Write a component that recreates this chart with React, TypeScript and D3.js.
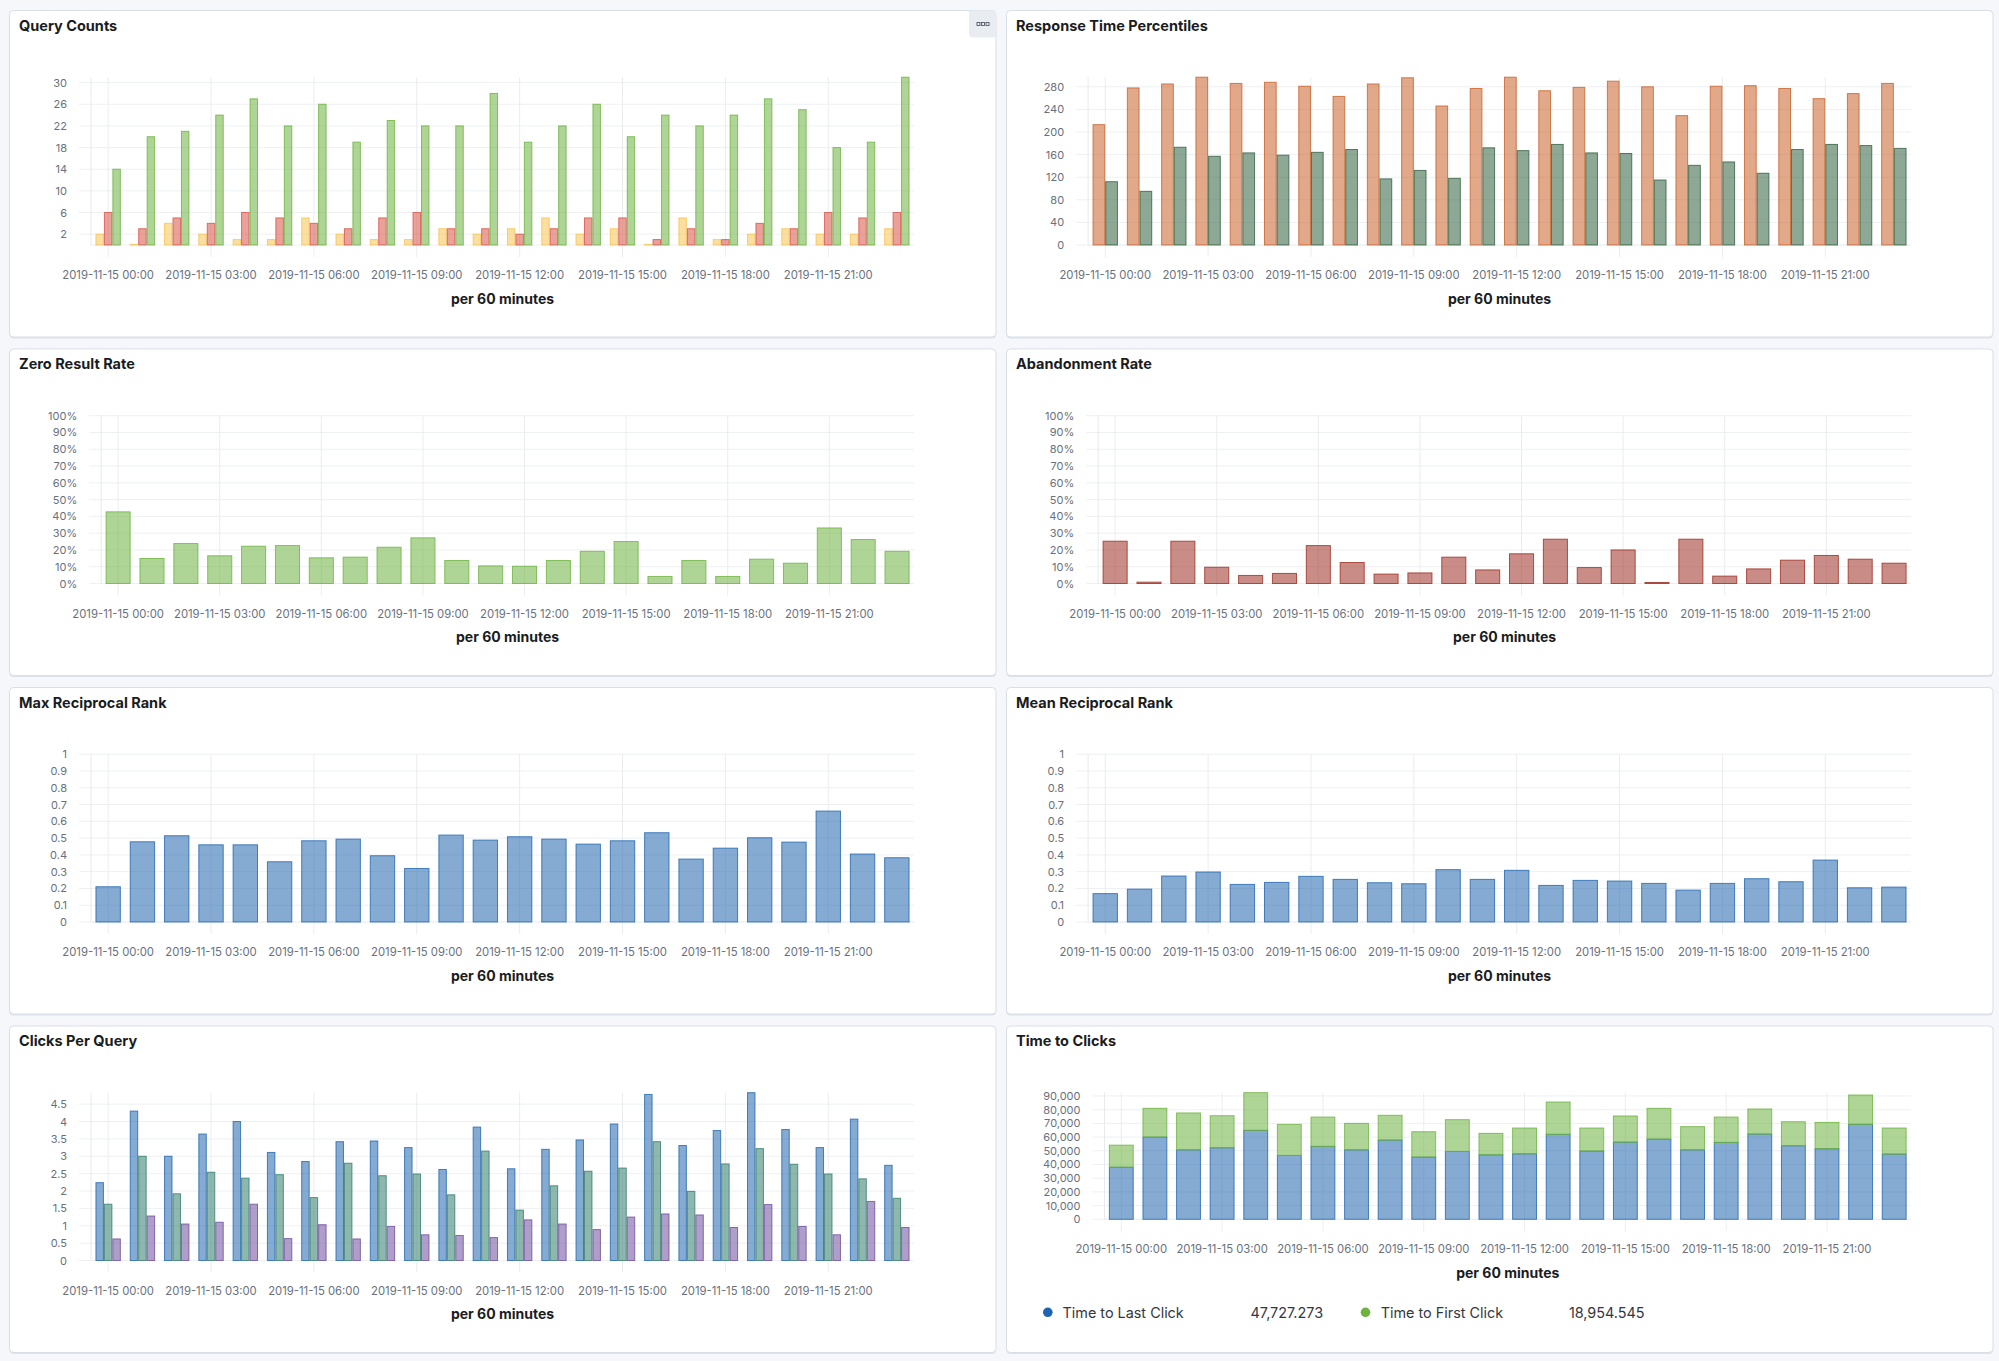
import React from 'react';
import * as d3 from 'd3';

// hourly buckets, 2019-11-15
const day = '2019-11-15';
const hours = ['00:00', '01:00', '02:00', '03:00', '04:00', '05:00', '06:00', '07:00', '08:00', '09:00', '10:00', '11:00',
  '12:00', '13:00', '14:00', '15:00', '16:00', '17:00', '18:00', '19:00', '20:00', '21:00', '22:00', '23:00'];
const tickHours = ['00:00', '03:00', '06:00', '09:00', '12:00', '15:00', '18:00', '21:00'];

// Query Counts
const qcZero = [2, 0, 4, 2, 1, 1, 5, 2, 1, 1, 3, 2, 3, 5, 2, 3, 0, 5, 1, 2, 3, 2, 2, 3];
const qcAbandoned = [6, 3, 5, 4, 6, 5, 4, 3, 5, 6, 3, 3, 2, 3, 5, 5, 1, 3, 1, 4, 3, 6, 5, 6];
const qcTotal = [14, 20, 21, 24, 27, 22, 26, 19, 23, 22, 22, 28, 19, 22, 26, 20, 24, 22, 24, 27, 25, 18, 19, 31];
const qcTicks = [2, 6, 10, 14, 18, 22, 26, 30];

// Response Time Percentiles
const rtP95 = [213, 278, 285, 297, 286, 288, 281, 263, 285, 296, 246, 277, 297, 273, 279, 290, 280, 229, 281, 282, 277, 259, 268, 286];
const rtP50 = [112, 95, 173, 157, 163, 159, 164, 169, 117, 132, 118, 172, 167, 178, 163, 162, 115, 141, 147, 127, 169, 178, 176, 171];
const rtTicks = [0, 40, 80, 120, 160, 200, 240, 280];

// rates
const zeroRate = [0.427, 0.149, 0.238, 0.165, 0.222, 0.226, 0.153, 0.157, 0.216, 0.272, 0.137, 0.105,
  0.103, 0.137, 0.192, 0.25, 0.042, 0.137, 0.042, 0.145, 0.121, 0.331, 0.262, 0.192];
const abandonRate = [0.252, 0.008, 0.252, 0.097, 0.048, 0.06, 0.226, 0.125, 0.056, 0.063, 0.157, 0.081,
  0.177, 0.264, 0.095, 0.2, 0.006, 0.264, 0.044, 0.087, 0.139, 0.167, 0.145, 0.121];
const pctTicks = [0, 0.1, 0.2, 0.3, 0.4, 0.5, 0.6, 0.7, 0.8, 0.9, 1];

// reciprocal rank
const maxRR = [0.21, 0.478, 0.514, 0.46, 0.46, 0.359, 0.484, 0.494, 0.395, 0.319, 0.518, 0.488,
  0.508, 0.494, 0.464, 0.484, 0.532, 0.375, 0.44, 0.502, 0.476, 0.661, 0.405, 0.383];
const meanRR = [0.169, 0.196, 0.274, 0.298, 0.224, 0.236, 0.272, 0.254, 0.234, 0.228, 0.312, 0.254,
  0.308, 0.218, 0.248, 0.244, 0.23, 0.19, 0.23, 0.258, 0.24, 0.369, 0.204, 0.208];
const rrTicks = [0, 0.1, 0.2, 0.3, 0.4, 0.5, 0.6, 0.7, 0.8, 0.9, 1];

// Clicks Per Query
const cpqMax = [2.24, 4.3, 3.0, 3.64, 4.0, 3.11, 2.85, 3.42, 3.44, 3.25, 2.62, 3.84, 2.64, 3.2, 3.47, 3.93, 4.78, 3.31, 3.74, 4.83, 3.77, 3.25, 4.07, 2.74];
const cpqP75 = [1.62, 3.0, 1.92, 2.54, 2.37, 2.47, 1.81, 2.8, 2.44, 2.49, 1.89, 3.15, 1.45, 2.15, 2.57, 2.66, 3.42, 1.99, 2.78, 3.22, 2.77, 2.49, 2.35, 1.79];
const cpqMean = [0.62, 1.28, 1.05, 1.1, 1.62, 0.63, 1.03, 0.62, 0.98, 0.74, 0.72, 0.66, 1.17, 1.05, 0.89, 1.25, 1.34, 1.31, 0.95, 1.61, 0.98, 0.74, 1.7, 0.95];
const cpqTicks = [0, 0.5, 1, 1.5, 2, 2.5, 3, 3.5, 4, 4.5];

// Time to Clicks (stacked)
const ttLast = [38000, 60000, 50700, 52200, 64900, 46600, 53200, 50700, 57800, 45400, 49500, 47100,
  47800, 62000, 49800, 56300, 58500, 50700, 56100, 62200, 53700, 51500, 69300, 47600];
const ttFirst = [16100, 21000, 26900, 23400, 27500, 22700, 21400, 19300, 18100, 18500, 23200, 15600,
  18800, 23600, 16800, 19100, 22500, 16900, 18500, 18300, 17500, 19200, 21400, 19000];
const ttTicks = [0, 10000, 20000, 30000, 40000, 50000, 60000, 70000, 80000, 90000];
const ttLegend = ['Time to Last Click', 'Time to First Click'];
const ttLegendValues = [47727.273, 18954.545];

const FONT = 'Inter, "Open Sans", "DejaVu Sans", sans-serif';
const PW = 986.5;
const PH = 326.5;
const colX = [9.5, 1006.5];
const rowY = [10.5, 349, 687.5, 1026];

type Series = { name: string; values: number[]; color: string };

interface PanelProps {
  px: number;
  py: number;
  title: string;
  axisX: number;
  series: Series[];
  stacked?: boolean;
  yMax?: number;
  yTicks: number[];
  yFormat: (v: number) => string;
  bottom?: number;
  menu?: boolean;
  children?: React.ReactNode;
}

const BarPanel: React.FC<PanelProps> = ({ px, py, title, axisX, series, stacked, yMax, yTicks, yFormat, bottom = 234.5, menu, children }) => {
  const x0 = px + axisX;
  const x1 = px + 904.5;
  const yTop = py + 66.7;
  const yBase = py + bottom;

  const rows = hours.map((h, i) => {
    const r: Record<string, number | string> = { hour: h };
    series.forEach(s => { r[s.name] = s.values[i]; });
    return r;
  });
  const stackData = d3.stack<Record<string, number | string>>()
    .keys(series.map(s => s.name))
    .value((d, k) => d[k] as number)(rows);

  const dataMax = stacked
    ? d3.max(stackData[stackData.length - 1], d => d[1]) || 1
    : d3.max(series.flatMap(s => s.values)) || 1;

  const x = d3.scaleBand<string>().domain(hours).range([x0, x1]).paddingInner(0.26).paddingOuter(0.13);
  const sub = d3.scaleBand<string>().domain(series.map(s => s.name)).range([0, x.bandwidth()]);
  const y = d3.scaleLinear().domain([0, yMax ?? dataMax]).range([yBase, yTop]);

  const bar = (key: string, bx: number, bw: number, v0: number, v1: number, color: string) => {
    const top = y(v1);
    const h = Math.max(0.6, y(v0) - top);
    return (
      <rect key={key} x={bx + 0.5} y={Math.min(top, y(v0) - 0.6)} width={bw - 1} height={h}
        fill={color} fillOpacity={0.55} stroke={color} strokeOpacity={0.8} strokeWidth={1} />
    );
  };

  return (
    <g>
      <rect x={px} y={py + 1.5} width={PW} height={PH} rx={4} fill="#dde2ea" />
      <rect x={px} y={py} width={PW} height={PH} rx={4} fill="#fff" stroke="#d9dfe8" strokeWidth={1} />
      <text x={px + 9.5} y={py + 14.5} dominantBaseline="central" fontFamily={FONT} fontSize={14.5}
        fontWeight={700} fill="#1a1c21">{title}</text>

      {menu && (
        <g>
          <path d={`M${px + PW - 27},${py} H${px + PW - 4} a4,4 0 0 1 4,4 V${py + 27} H${px + PW - 23} a4,4 0 0 1 -4,-4 Z`} fill="#e9edf2" />
          {[0, 1, 2].map(i => (
            <rect key={i} x={px + PW - 19 + i * 4.5} y={py + 12} width={3} height={3} fill="none" stroke="#535966" strokeWidth={0.9} />
          ))}
        </g>
      )}

      {/* grid */}
      {yTicks.map(t => (
        <line key={`g${t}`} x1={x0 - 12} x2={x1} y1={y(t)} y2={y(t)} stroke="#eef0f3" strokeWidth={1} />
      ))}
      <line x1={x0} x2={x1} y1={yBase} y2={yBase} stroke="#eef0f3" strokeWidth={1} />
      <line x1={x0} x2={x0} y1={yTop} y2={yBase} stroke="#e6e9ed" strokeWidth={1} />
      {tickHours.map(h => {
        const cx = (x(h) ?? 0) + x.bandwidth() / 2;
        return <line key={`v${h}`} x1={cx} x2={cx} y1={yTop} y2={yBase + 12} stroke="#eaedf0" strokeWidth={1} />;
      })}

      {/* bars */}
      {stacked
        ? stackData.map((layer, si) => (
          <g key={layer.key}>
            {layer.map((d, i) => bar(`${si}-${i}`, x(hours[i]) ?? 0, x.bandwidth(), d[0], d[1], series[si].color))}
          </g>
        ))
        : series.map(s => (
          <g key={s.name}>
            {s.values.map((v, i) => bar(`${s.name}-${i}`, (x(hours[i]) ?? 0) + (sub(s.name) ?? 0), sub.bandwidth(), 0, v, s.color))}
          </g>
        ))}

      {/* axes text */}
      {yTicks.map(t => (
        <text key={`t${t}`} x={x0 - 24} y={y(t)} textAnchor="end" dominantBaseline="central"
          fontFamily={FONT} fontSize={11} fill="#69707d">{yFormat(t)}</text>
      ))}
      {tickHours.map(h => (
        <text key={`x${h}`} x={(x(h) ?? 0) + x.bandwidth() / 2} y={yBase + 30} textAnchor="middle"
          dominantBaseline="central" fontFamily={FONT} fontSize={11.3} fill="#69707d">{`${day} ${h}`}</text>
      ))}
      <text x={(x0 + x1) / 2} y={yBase + 53} textAnchor="middle" dominantBaseline="central"
        fontFamily={FONT} fontSize={14} fontWeight={700} fill="#1a1c21">per 60 minutes</text>
      {children}
    </g>
  );
};

const fmtInt = d3.format(',');
const fmtPct = d3.format('.0%');
const fmtNum = (v: number) => String(+v.toFixed(2));
const fmtLegend = d3.format(',.3f');

const GREEN = '#6db33f';
const BLUE = '#2166ae';

const App: React.FC = () => {
  const [lx, ly] = [colX[1], rowY[3]];
  return (
    <div style={{ position: 'absolute', left: 0, top: 0, width: 1999, height: 1361, background: '#f5f7fa' }}>
      <svg width={1999} height={1361} style={{ display: 'block' }}>
        <BarPanel px={colX[0]} py={rowY[0]} title="Query Counts" axisX={81.5} menu
          series={[
            { name: 'zero', values: qcZero, color: '#f6c453' },
            { name: 'abandoned', values: qcAbandoned, color: '#d75447' },
            { name: 'total', values: qcTotal, color: GREEN },
          ]}
          yTicks={qcTicks} yFormat={fmtInt} />
        <BarPanel px={colX[1]} py={rowY[0]} title="Response Time Percentiles" axisX={81.6}
          series={[
            { name: 'p95', values: rtP95, color: '#c8622a' },
            { name: 'p50', values: rtP50, color: '#32603f' },
          ]}
          yTicks={rtTicks} yFormat={fmtInt} />
        <BarPanel px={colX[0]} py={rowY[1]} title="Zero Result Rate" axisX={91.7}
          series={[{ name: 'rate', values: zeroRate, color: GREEN }]}
          yMax={1} yTicks={pctTicks} yFormat={fmtPct} />
        <BarPanel px={colX[1]} py={rowY[1]} title="Abandonment Rate" axisX={91.7}
          series={[{ name: 'rate', values: abandonRate, color: '#9e2e22' }]}
          yMax={1} yTicks={pctTicks} yFormat={fmtPct} />
        <BarPanel px={colX[0]} py={rowY[2]} title="Max Reciprocal Rank" axisX={81.5}
          series={[{ name: 'rr', values: maxRR, color: BLUE }]}
          yMax={1} yTicks={rrTicks} yFormat={fmtNum} />
        <BarPanel px={colX[1]} py={rowY[2]} title="Mean Reciprocal Rank" axisX={81.6}
          series={[{ name: 'rr', values: meanRR, color: BLUE }]}
          yMax={1} yTicks={rrTicks} yFormat={fmtNum} />
        <BarPanel px={colX[0]} py={rowY[3]} title="Clicks Per Query" axisX={81.5}
          series={[
            { name: 'max', values: cpqMax, color: BLUE },
            { name: 'p75', values: cpqP75, color: '#327d6c' },
            { name: 'mean', values: cpqMean, color: '#6e4e9f' },
          ]}
          yTicks={cpqTicks} yFormat={fmtNum} />
        <BarPanel px={colX[1]} py={rowY[3]} title="Time to Clicks" axisX={98} stacked bottom={193.3}
          series={[
            { name: ttLegend[0], values: ttLast, color: BLUE },
            { name: ttLegend[1], values: ttFirst, color: GREEN },
          ]}
          yTicks={ttTicks} yFormat={fmtInt}>
          <g fontFamily={FONT} fontSize={14.4} fill="#343741">
            <circle cx={lx + 41.3} cy={ly + 286.3} r={4.8} fill="#1f63b5" />
            <text x={lx + 56} y={ly + 286.3} dominantBaseline="central">{ttLegend[0]}</text>
            <text x={lx + 244} y={ly + 286.3} dominantBaseline="central">{fmtLegend(ttLegendValues[0])}</text>
            <circle cx={lx + 359} cy={ly + 286.3} r={4.8} fill={GREEN} />
            <text x={lx + 374.2} y={ly + 286.3} dominantBaseline="central">{ttLegend[1]}</text>
            <text x={lx + 562.4} y={ly + 286.3} dominantBaseline="central">{fmtLegend(ttLegendValues[1])}</text>
          </g>
        </BarPanel>
      </svg>
    </div>
  );
};

export default App;
